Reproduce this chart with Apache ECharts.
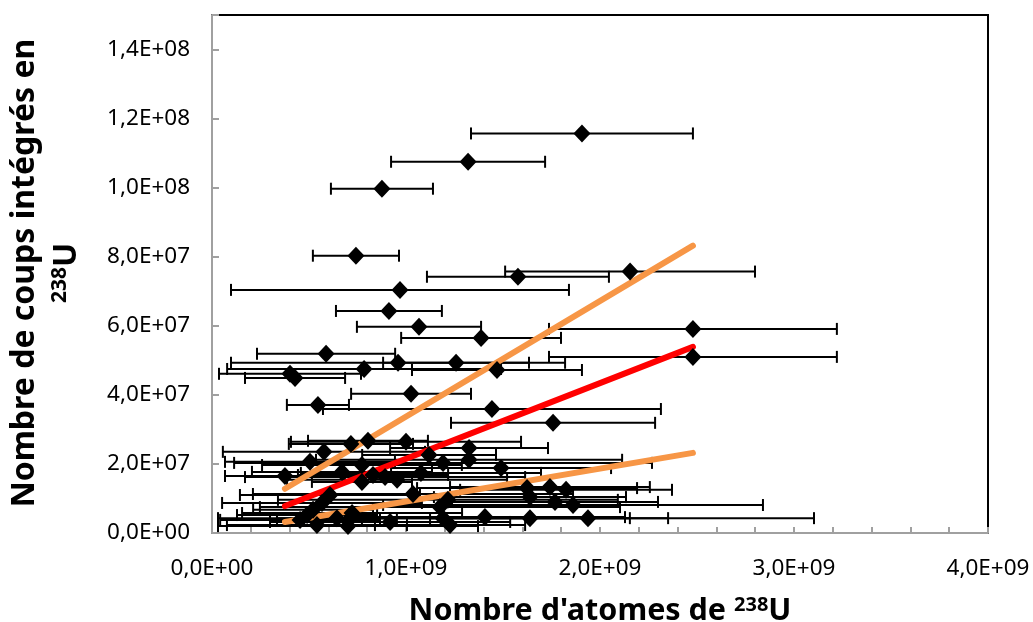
<!DOCTYPE html>
<html>
<head>
    <meta charset="utf-8">
    <title>238U</title>
    <script src="https://cdn.jsdelivr.net/npm/echarts@6/dist/echarts.min.js"></script>
    <style type="text/css">
        html, body { margin: 0; padding: 0; background: #fff; }
        #main { width: 1033px; height: 622px; }
    </style>
</head>
<body>
<div id="main"></div>
<script type="text/javascript">
    // nombre d'atomes (x), coups intégrés (y), demi-largeur de la barre d'erreur en x
    var atomes = [
        1.907e9, 1.320e9, 0.876e9, 0.742e9, 0.969e9, 2.155e9, 1.577e9, 0.912e9, 1.067e9, 1.387e9,
        2.479e9, 0.588e9, 0.959e9, 2.479e9, 1.258e9, 1.469e9, 0.784e9, 0.428e9, 0.402e9, 1.026e9,
        0.546e9, 1.443e9, 1.758e9,
        0.716e9, 0.804e9, 1.000e9, 1.325e9, 0.577e9, 1.119e9, 1.191e9, 1.325e9, 0.505e9, 1.490e9,
        0.773e9, 0.670e9, 0.376e9, 1.077e9, 0.830e9, 0.892e9, 0.954e9, 0.773e9, 1.036e9, 0.608e9,
        0.567e9, 0.521e9, 1.175e9, 1.216e9, 1.624e9, 1.742e9, 1.825e9, 1.639e9, 1.768e9, 1.861e9,
        0.454e9, 0.490e9, 0.541e9, 0.722e9, 0.701e9, 0.644e9, 0.918e9, 1.191e9, 1.227e9, 1.407e9,
        1.639e9, 1.938e9
    ];
    var coups = [
        11.57e7, 10.75e7, 9.97e7, 8.03e7, 7.04e7, 7.57e7, 7.42e7, 6.43e7, 5.97e7, 5.65e7,
        5.91e7, 5.19e7, 4.93e7, 5.10e7, 4.93e7, 4.72e7, 4.75e7, 4.49e7, 4.61e7, 4.03e7,
        3.71e7, 3.59e7, 3.19e7,
        2.58e7, 2.67e7, 2.64e7, 2.46e7, 2.35e7, 2.26e7, 2.03e7, 2.12e7, 2.06e7, 1.88e7,
        1.97e7, 1.77e7, 1.65e7, 1.74e7, 1.68e7, 1.62e7, 1.54e7, 1.48e7, 1.13e7, 1.10e7,
        0.87e7, 0.67e7, 0.75e7, 0.96e7, 1.30e7, 1.33e7, 1.25e7, 1.04e7, 0.90e7, 0.81e7,
        0.38e7, 0.52e7, 0.23e7, 0.58e7, 0.20e7, 0.43e7, 0.32e7, 0.43e7, 0.23e7, 0.46e7,
        0.43e7, 0.43e7
    ];
    var erreurs = [
        0.572e9, 0.397e9, 0.263e9, 0.222e9, 0.871e9, 0.644e9, 0.469e9, 0.273e9, 0.320e9, 0.412e9,
        0.742e9, 0.356e9, 0.861e9, 0.742e9, 0.376e9, 0.438e9, 0.706e9, 0.258e9, 0.366e9, 0.309e9,
        0.160e9, 0.871e9, 0.526e9,
        0.320e9, 0.309e9, 0.593e9, 0.407e9, 0.521e9, 0.345e9, 1.077e9, 0.789e9, 0.438e9, 0.567e9,
        0.515e9, 0.464e9, 0.309e9, 0.619e9, 0.387e9, 0.722e9, 0.567e9, 0.258e9, 0.825e9, 0.464e9,
        0.515e9, 0.309e9, 0.928e9, 0.876e9, 0.567e9, 0.515e9, 0.546e9, 0.495e9, 0.531e9, 0.979e9,
        0.412e9, 0.361e9, 0.464e9, 0.567e9, 0.670e9, 0.309e9, 0.619e9, 1.160e9, 0.387e9, 0.722e9,
        0.515e9, 1.165e9
    ];

    // droites d'ajustement
    var droiteX = [0.376e9, 2.479e9];
    var droiteHaute = [1.28e7, 8.32e7];
    var droiteMoy = [0.78e7, 5.39e7];
    var droiteBasse = [0.32e7, 2.32e7];

    var points = [];
    for (var i = 0; i < atomes.length; i++) {
        points.push([atomes[i], coups[i], erreurs[i]]);
    }
    function droite(ys) {
        return [[droiteX[0], ys[0]], [droiteX[1], ys[1]]];
    }

    function fmtSci(v) {
        var s = v.toExponential(1).split('e');
        var exp = parseInt(s[1], 10);
        var e = (exp < 0 ? '-' : '+') + (Math.abs(exp) < 10 ? '0' : '') + Math.abs(exp);
        return s[0].replace('.', ',') + 'E' + e;
    }

    var titreFont = {fontFamily: 'Noto Sans', fontWeight: 'bold', color: '#000'};

    var chart = echarts.init(document.getElementById('main'));
    chart.setOption({
        animation: false,
        grid: {
            left: 212, top: 15, right: 45, bottom: 89,
            outerBoundsMode: 'none',
            containLabel: false,
            show: true, borderColor: '#000', borderWidth: 2
        },
        xAxis: {
            type: 'value',
            min: 0, max: 4e9, interval: 2e8,
            axisLine: {onZero: false, lineStyle: {color: '#a0a0a0', width: 2}},
            axisTick: {inside: true, length: 6, lineStyle: {color: '#a0a0a0', width: 2}},
            splitLine: {show: false},
            axisLabel: {
                margin: 24, fontSize: 22.5, color: '#000', fontFamily: 'Noto Sans',
                formatter: function (v) {
                    var k = v / 1e9;
                    return Math.abs(k - Math.round(k)) < 1e-6 ? fmtSci(v) : '';
                }
            },
            name: '{t|Nombre d\'atomes de }{s|238}{t|U}',
            nameLocation: 'middle',
            nameGap: 62,
            nameTextStyle: {
                rich: {
                    t: Object.assign({fontSize: 30.5}, titreFont),
                    s: Object.assign({fontSize: 20, verticalAlign: 'top', padding: [0, 0, 12, 0]}, titreFont)
                }
            }
        },
        yAxis: {
            type: 'value',
            min: 0, max: 1.5e8, interval: 2e7,
            axisLine: {onZero: false, lineStyle: {color: '#a0a0a0', width: 2}},
            axisTick: {inside: true, length: 7, lineStyle: {color: '#a0a0a0', width: 2}},
            splitLine: {show: false},
            axisLabel: {
                margin: 22, fontSize: 22.5, color: '#000', fontFamily: 'Noto Sans',
                formatter: function (v) {
                    return v > 1.41e8 ? '' : fmtSci(v);
                }
            }
        },
        graphic: [{
            type: 'text',
            x: 46, y: 273,
            rotation: Math.PI / 2,
            style: {
                text: '{t|Nombre de coups intégrés en}\n{s|238}{t|U}',
                align: 'center',
                verticalAlign: 'middle',
                rich: {
                    t: Object.assign({fontSize: 32, lineHeight: 42, align: 'center'}, titreFont),
                    s: Object.assign({fontSize: 21, lineHeight: 42, padding: [0, 0, 14, 0]}, titreFont)
                }
            }
        }],
        series: [
            {
                type: 'custom',
                name: 'erreurs',
                data: points,
                z: 2,
                renderItem: function (params, api) {
                    var x = api.value(0), y = api.value(1), e = api.value(2);
                    var a = api.coord([x - e, y]);
                    var b = api.coord([x + e, y]);
                    var st = {stroke: '#000', lineWidth: 2};
                    return {
                        type: 'group',
                        children: [
                            {type: 'line', shape: {x1: a[0], y1: a[1], x2: b[0], y2: b[1]}, style: st},
                            {type: 'line', shape: {x1: a[0], y1: a[1] - 6, x2: a[0], y2: a[1] + 6}, style: st},
                            {type: 'line', shape: {x1: b[0], y1: b[1] - 6, x2: b[0], y2: b[1] + 6}, style: st}
                        ]
                    };
                }
            },
            {
                type: 'line', data: droite(droiteHaute), symbol: 'none', z: 3,
                lineStyle: {color: '#f79646', width: 6, cap: 'round'}
            },
            {
                type: 'line', data: droite(droiteMoy), symbol: 'none', z: 3,
                lineStyle: {color: '#ff0000', width: 6, cap: 'round'}
            },
            {
                type: 'line', data: droite(droiteBasse), symbol: 'none', z: 3,
                lineStyle: {color: '#f79646', width: 6, cap: 'round'}
            },
            {
                type: 'scatter',
                data: points,
                symbol: 'diamond',
                symbolSize: [17, 18],
                z: 4,
                itemStyle: {color: '#000', opacity: 1}
            }
        ]
    });
</script>
</body>
</html>
